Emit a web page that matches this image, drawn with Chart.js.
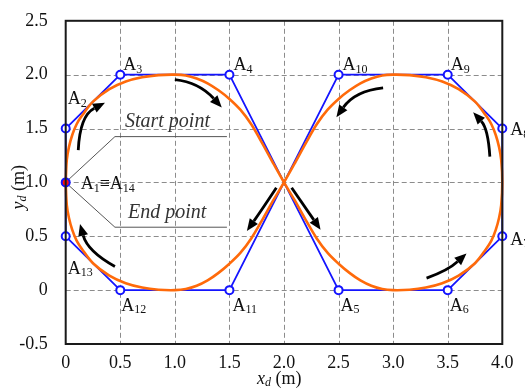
<!DOCTYPE html>
<html>
<head>
<meta charset="utf-8">
<script src="https://cdn.jsdelivr.net/npm/chart.js@4/dist/chart.umd.min.js"></script>
<style>
  html, body { margin: 0; padding: 0; background: #fff; }
  #wrap { width: 525px; height: 390px; }
</style>
</head>
<body>
<div id="wrap"><canvas id="pathChart" width="525" height="390"></canvas></div>
<script>
// control polygon A1..A14
const polyX = [0, 0, 0.5, 1.5, 2.5, 3.5, 4, 4, 3.5, 2.5, 1.5, 0.5, 0, 0];
const polyY = [1, 1.5, 2, 2, 0, 0, 0.5, 1.5, 2, 2, 0, 0, 0.5, 1];
const polyNames = [["A", "1", "\u2261A", "14"], ["A", "2"], ["A", "3"], ["A", "4"], ["A", "5"], ["A", "6"],
  ["A", "7"], ["A", "8"], ["A", "9"], ["A", "10"], ["A", "11"], ["A", "12"], ["A", "13"]];

// smoothed figure-eight path
const trajX = [0, 0.01, 0.03, 0.06, 0.1, 0.15, 0.25, 0.4, 0.55, 0.7, 0.85, 1,
  1.1, 1.2, 1.3, 1.4, 1.5, 1.6, 1.7, 1.8, 1.9, 2,
  2.1, 2.2, 2.3, 2.4, 2.5, 2.6, 2.7, 2.8, 2.9, 3,
  3.15, 3.3, 3.45, 3.6, 3.75, 3.85, 3.9, 3.94, 3.97, 3.99, 4,
  3.99, 3.97, 3.94, 3.9, 3.85, 3.75, 3.6, 3.45, 3.3, 3.15, 3,
  2.9, 2.8, 2.7, 2.6, 2.5, 2.4, 2.3, 2.2, 2.1, 2,
  1.9, 1.8, 1.7, 1.6, 1.5, 1.4, 1.3, 1.2, 1.1, 1,
  0.85, 0.7, 0.55, 0.4, 0.25, 0.15, 0.1, 0.06, 0.03, 0.01, 0];
const trajY = [1, 1.21, 1.33, 1.44, 1.54, 1.62, 1.75, 1.865, 1.936, 1.976, 1.996, 2,
  1.993, 1.965, 1.92, 1.855, 1.775, 1.675, 1.54, 1.365, 1.18, 1,
  0.83, 0.65, 0.48, 0.345, 0.245, 0.16, 0.09, 0.04, 0.01, 0,
  0.004, 0.024, 0.064, 0.135, 0.25, 0.38, 0.46, 0.56, 0.67, 0.79, 1,
  1.21, 1.33, 1.44, 1.54, 1.62, 1.75, 1.865, 1.936, 1.976, 1.996, 2,
  1.993, 1.965, 1.92, 1.855, 1.775, 1.675, 1.54, 1.365, 1.18, 1,
  0.83, 0.65, 0.48, 0.345, 0.245, 0.16, 0.09, 0.04, 0.01, 0,
  0.004, 0.024, 0.064, 0.135, 0.25, 0.38, 0.46, 0.56, 0.67, 0.79, 1];

// direction arrows: start, bend, tip (data units)
const arrowStart = [[0.115, 1.30], [1.0, 1.954], [2.908, 1.878], [3.886, 1.239], [1.93, 0.95], [2.07, 0.95], [0.451, 0.219], [3.306, 0.112]];
const arrowBend = [[0.13, 1.62], [1.22, 1.93], [2.65, 1.85], [3.87, 1.5], [1.8, 0.75], [2.2, 0.76], [0.2, 0.36], [3.5, 0.18]];
const arrowTip = [[0.36, 1.74], [1.43, 1.696], [2.48, 1.605], [3.733, 1.65], [1.66, 0.55], [2.335, 0.56], [0.131, 0.615], [3.672, 0.341]];

const xTicks = [0, 0.5, 1, 1.5, 2, 2.5, 3, 3.5, 4];
const yTicks = [-0.5, 0, 0.5, 1, 1.5, 2, 2.5];

const SERIF = "'Liberation Serif', 'Times New Roman', Times, serif";
const blue = '#1414ff';
const orange = '#ff6a0a';

// label placement, pixel offsets from each polygon vertex (text left, middle)
const labelOffsets = [[15, 2], [2, -29], [3, -9], [4, -9], [2, 16], [2, 16], [8, 4], [8, 2], [3, -9], [4, -9], [3, 16], [1, 16], [2, 33]];

function drawParts(ctx, parts, x, y) {
  ctx.textBaseline = 'middle';
  ctx.textAlign = 'left';
  parts.forEach((t, i) => {
    const sub = i % 2 === 1;
    ctx.font = (sub ? '12px ' : '18px ') + SERIF;
    ctx.fillText(t, x, sub ? y + 4 : y);
    x += ctx.measureText(t).width;
  });
}

const decor = {
  id: 'decor',
  beforeDatasetsDraw(chart) {
    const ctx = chart.ctx, sx = chart.scales.x, sy = chart.scales.y;
    const ca = chart.chartArea;
    const p = (x, y) => [sx.getPixelForValue(x), sy.getPixelForValue(y)];
    ctx.save();
    // dashed grid
    ctx.strokeStyle = '#8c8c8c';
    ctx.lineWidth = 1;
    ctx.setLineDash([5, 3]);
    xTicks.slice(1, -1).forEach(v => {
      const px = Math.round(sx.getPixelForValue(v)) + 0.5;
      ctx.beginPath();
      ctx.moveTo(px, ca.top);
      ctx.lineTo(px, ca.bottom);
      ctx.stroke();
    });
    yTicks.slice(1, -1).forEach(v => {
      const py = Math.round(sy.getPixelForValue(v)) + 0.5;
      ctx.beginPath();
      ctx.moveTo(ca.left, py);
      ctx.lineTo(ca.right, py);
      ctx.stroke();
    });
    ctx.setLineDash([]);
    // leader lines for start / end point
    ctx.strokeStyle = '#555';
    const o = p(0, 1);
    [[0.451, 1.425, 1.477], [0.451, 0.584, 1.477]].forEach(([x, y, x2]) => {
      const a = p(x, y), b = p(x2, y);
      ctx.beginPath();
      ctx.moveTo(o[0] + 2, o[1] + (y > 1 ? -2 : 2));
      ctx.lineTo(a[0], a[1]);
      ctx.lineTo(b[0], b[1]);
      ctx.stroke();
    });
    ctx.restore();
  },
  afterDatasetsDraw(chart) {
    const ctx = chart.ctx, sx = chart.scales.x, sy = chart.scales.y;
    const p = (x, y) => [sx.getPixelForValue(x), sy.getPixelForValue(y)];
    const ca = chart.chartArea;
    ctx.save();
    // frame
    ctx.strokeStyle = '#1a1a1a';
    ctx.lineWidth = 2;
    ctx.strokeRect(ca.left, ca.top, ca.right - ca.left, ca.bottom - ca.top);

    // arrows
    ctx.strokeStyle = '#000';
    ctx.fillStyle = '#000';
    arrowStart.forEach((s, i) => {
      const a = p(...s), c = p(...arrowBend[i]), t = p(...arrowTip[i]);
      const ang = Math.atan2(t[1] - c[1], t[0] - c[0]);
      const len = 12, w = 5;
      const bx = t[0] - len * Math.cos(ang), by = t[1] - len * Math.sin(ang);
      ctx.lineWidth = 2.8;
      ctx.beginPath();
      ctx.moveTo(a[0], a[1]);
      ctx.quadraticCurveTo(c[0], c[1], bx, by);
      ctx.stroke();
      ctx.beginPath();
      ctx.moveTo(t[0], t[1]);
      ctx.lineTo(bx + w * Math.sin(ang), by - w * Math.cos(ang));
      ctx.lineTo(bx - w * Math.sin(ang), by + w * Math.cos(ang));
      ctx.closePath();
      ctx.fill();
    });

    // vertex labels
    ctx.fillStyle = '#111';
    polyNames.forEach((parts, i) => {
      const q = p(polyX[i], polyY[i]);
      drawParts(ctx, parts, q[0] + labelOffsets[i][0], q[1] + labelOffsets[i][1]);
    });

    // start / end point text
    ctx.fillStyle = '#333';
    ctx.font = 'italic 20px ' + SERIF;
    ctx.textBaseline = 'middle';
    let q = p(0.543, 1.562);
    ctx.fillText('Start point', q[0], q[1]);
    q = p(0.571, 0.721);
    ctx.fillText('End point', q[0], q[1]);

    // axis titles
    ctx.fillStyle = '#111';
    const xt = (ca.left + ca.right) / 2 - 27;
    ctx.font = 'italic 18px ' + SERIF;
    ctx.fillText('x', xt, 379);
    let w = ctx.measureText('x').width;
    ctx.font = 'italic 12px ' + SERIF;
    ctx.fillText('d', xt + w, 383);
    w += ctx.measureText('d').width;
    ctx.font = '18px ' + SERIF;
    ctx.fillText(' (m)', xt + w, 379);

    ctx.translate(19, (ca.top + ca.bottom) / 2 + 27);
    ctx.rotate(-Math.PI / 2);
    ctx.font = 'italic 18px ' + SERIF;
    ctx.fillText('y', 0, 0);
    w = ctx.measureText('y').width;
    ctx.font = 'italic 12px ' + SERIF;
    ctx.fillText('d', w, 4);
    w += ctx.measureText('d').width;
    ctx.font = '18px ' + SERIF;
    ctx.fillText(' (m)', w, 0);
    ctx.restore();
  }
};

const toXY = (xs, ys) => xs.map((x, i) => ({ x: x, y: ys[i] }));
const fmt = v => (v === 0 ? '0' : v.toFixed(1));

new Chart(document.getElementById('pathChart').getContext('2d'), {
  type: 'scatter',
  data: {
    datasets: [
      {
        data: toXY(polyX.slice(0, 13), polyY.slice(0, 13)),
        showLine: false,
        pointRadius: 4,
        pointBorderWidth: 2,
        pointBorderColor: blue,
        pointBackgroundColor: polyX.slice(0, 13).map((_, i) => (i === 0 ? '#ff1010' : '#fff')),
        clip: false,
        order: 0
      },
      {
        data: toXY(trajX, trajY),
        showLine: true,
        borderColor: orange,
        borderWidth: 2.6,
        pointRadius: 0,
        tension: 0.35,
        clip: false,
        order: 1
      },
      {
        data: toXY(polyX, polyY),
        showLine: true,
        borderColor: blue,
        borderWidth: 1.8,
        pointRadius: 0,
        tension: 0,
        clip: false,
        order: 2
      }
    ]
  },
  options: {
    responsive: false,
    animation: false,
    layout: { padding: { top: 15, right: 22.7, bottom: 0, left: 0 } },
    plugins: { legend: { display: false }, tooltip: { enabled: false } },
    scales: {
      x: {
        type: 'linear',
        min: 0,
        max: 4,
        afterBuildTicks: s => { s.ticks = xTicks.map(v => ({ value: v })); },
        afterFit: s => { s.height = 46; },
        ticks: { callback: fmt, padding: 0, color: '#111', font: { family: SERIF, size: 18 } },
        grid: { display: false },
        border: { display: false }
      },
      y: {
        type: 'linear',
        min: -0.5,
        max: 2.5,
        afterBuildTicks: s => { s.ticks = yTicks.map(v => ({ value: v })); },
        afterFit: s => { s.width = 65.7; },
        ticks: { callback: fmt, padding: 10, color: '#111', font: { family: SERIF, size: 18 } },
        grid: { display: false },
        border: { display: false }
      }
    }
  },
  plugins: [decor]
});
</script>
</body>
</html>
